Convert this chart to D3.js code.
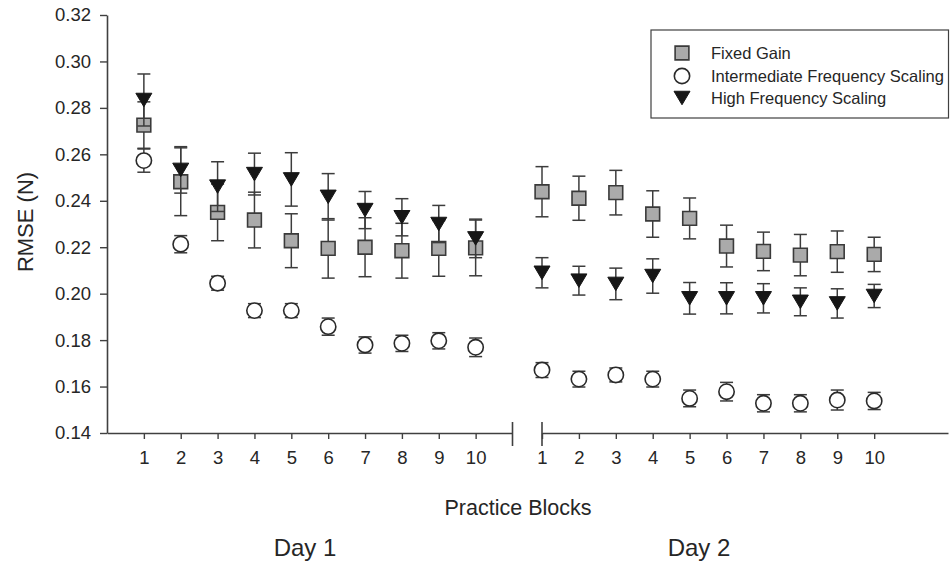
<!DOCTYPE html>
<html>
<head>
<meta charset="utf-8">
<script src="https://d3js.org/d3.v7.min.js"></script>
<style>
  body { margin: 0; background: #fff; }
  svg { display: block; font-family: "Liberation Sans", Arial, sans-serif; }
</style>
</head>
<body>
<svg width="950" height="565"></svg>
<script>
// data
const blocks = [1, 2, 3, 4, 5, 6, 7, 8, 9, 10];
const yTicks = [0.14, 0.16, 0.18, 0.20, 0.22, 0.24, 0.26, 0.28, 0.30, 0.32];
const seriesNames = ["Fixed Gain", "Intermediate Frequency Scaling", "High Frequency Scaling"];

const fixedDay1    = [0.2726, 0.2482, 0.2350, 0.2317, 0.2228, 0.2195, 0.2200, 0.2185, 0.2195, 0.2197];
const fixedDay1Err = [0.0100, 0.0146, 0.0122, 0.0120, 0.0116, 0.0128, 0.0127, 0.0118, 0.0120, 0.0120];
const interDay1    = [0.2573, 0.2213, 0.2045, 0.1927, 0.1927, 0.1858, 0.1779, 0.1786, 0.1797, 0.1769];
const interDay1Err = [0.0050, 0.0037, 0.0030, 0.0030, 0.0030, 0.0037, 0.0035, 0.0035, 0.0035, 0.0040];
const highDay1     = [0.2834, 0.2533, 0.2461, 0.2515, 0.2492, 0.2417, 0.2360, 0.2329, 0.2300, 0.2238];
const highDay1Err  = [0.0112, 0.0100, 0.0107, 0.0090, 0.0115, 0.0100, 0.0080, 0.0080, 0.0080, 0.0083];

const fixedDay2    = [0.2439, 0.2411, 0.2435, 0.2343, 0.2324, 0.2205, 0.2182, 0.2166, 0.2181, 0.2169];
const fixedDay2Err = [0.0108, 0.0095, 0.0096, 0.0100, 0.0088, 0.0090, 0.0083, 0.0089, 0.0089, 0.0074];
const interDay2    = [0.1671, 0.1632, 0.1650, 0.1632, 0.1549, 0.1578, 0.1528, 0.1528, 0.1542, 0.1538];
const interDay2Err = [0.0032, 0.0034, 0.0030, 0.0034, 0.0036, 0.0040, 0.0037, 0.0037, 0.0043, 0.0037];
const highDay2     = [0.2090, 0.2056, 0.2042, 0.2076, 0.1980, 0.1980, 0.1980, 0.1965, 0.1958, 0.1990];
const highDay2Err  = [0.0065, 0.0062, 0.0068, 0.0074, 0.0068, 0.0067, 0.0063, 0.0060, 0.0063, 0.0050];

const svg = d3.select("svg");
const axisColor = "#404040";
const textColor = "#262626";

const y = d3.scaleLinear().domain([0.14, 0.32]).range([433, 15]);
const x1 = d3.scaleLinear().domain([0, 11]).range([107, 512.5]);
const x2 = d3.scaleLinear().domain([1, 12]).range([542, 948]);

// marker shapes
const squarePath = d3.symbol(d3.symbolSquare, 190)();
const circlePath = d3.symbol(d3.symbolCircle, 185)();
function downTriangle(w, h) {
  const p = d3.path();
  p.moveTo(-w / 2, -h / 2); p.lineTo(w / 2, -h / 2); p.lineTo(0, h / 2); p.closePath();
  return p.toString();
}
const triPath = downTriangle(16, 13.5);
const markers = [
  { path: squarePath, fill: "#aaaaaa", stroke: "#3a3a3a", sw: 1.6 },
  { path: circlePath, fill: "#ffffff", stroke: "#2a2a2a", sw: 1.6 },
  { path: triPath, fill: "#161616", stroke: "#161616", sw: 1 }
];

// axes
const yAxis = svg.append("g")
  .attr("transform", "translate(107,0)")
  .call(d3.axisLeft(y).tickValues(yTicks).tickFormat(d3.format(".2f")).tickSize(7).tickSizeOuter(0).tickPadding(9));

const xAxis1 = svg.append("g")
  .attr("transform", "translate(0,433)")
  .call(d3.axisBottom(x1).tickValues(blocks).tickFormat(d3.format("d")).tickSize(6).tickSizeOuter(0).tickPadding(12));
const xAxis2 = svg.append("g")
  .attr("transform", "translate(0,433)")
  .call(d3.axisBottom(x2).tickValues(blocks).tickFormat(d3.format("d")).tickSize(6).tickSizeOuter(0).tickPadding(12));

[yAxis, xAxis1, xAxis2].forEach(g => {
  g.select(".domain").attr("stroke", axisColor).attr("stroke-width", 1.6);
  g.selectAll(".tick line").attr("stroke", axisColor).attr("stroke-width", 1.4);
  g.selectAll(".tick text").attr("fill", textColor).style("font-size", "18.5px").style("font-family", "Liberation Sans, Arial, sans-serif");
});

// axis break marks
svg.append("g").selectAll("line").data([x1(11), x2(1)]).join("line")
  .attr("x1", d => d).attr("x2", d => d)
  .attr("y1", 422).attr("y2", 446)
  .attr("stroke", axisColor).attr("stroke-width", 1.6);

// series groups: per day, per series
const days = [
  { x: x1, series: [[fixedDay1, fixedDay1Err], [interDay1, interDay1Err], [highDay1, highDay1Err]] },
  { x: x2, series: [[fixedDay2, fixedDay2Err], [interDay2, interDay2Err], [highDay2, highDay2Err]] }
];

const capW = 6.5;
markers.forEach((m, si) => {
  days.forEach(day => {
    const [vals, errs] = day.series[si];
    const pts = blocks.map((b, i) => ({ x: day.x(b), v: vals[i], e: errs[i] }));
    const g = svg.append("g");
    const eb = g.selectAll("g.err").data(pts).join("g").attr("class", "err")
      .attr("stroke", "#3c3c3c").attr("stroke-width", 1.5);
    eb.append("line").attr("x1", d => d.x).attr("x2", d => d.x)
      .attr("y1", d => y(d.v + d.e)).attr("y2", d => y(d.v - d.e));
    eb.append("line").attr("x1", d => d.x - capW).attr("x2", d => d.x + capW)
      .attr("y1", d => y(d.v + d.e)).attr("y2", d => y(d.v + d.e));
    eb.append("line").attr("x1", d => d.x - capW).attr("x2", d => d.x + capW)
      .attr("y1", d => y(d.v - d.e)).attr("y2", d => y(d.v - d.e));
    g.selectAll("path.mark").data(pts).join("path").attr("class", "mark")
      .attr("d", m.path)
      .attr("transform", d => `translate(${d.x},${y(d.v)})`)
      .attr("fill", m.fill).attr("stroke", m.stroke).attr("stroke-width", m.sw);
  });
});

// axis titles
svg.append("text")
  .attr("transform", "translate(33,222) rotate(-90)")
  .attr("text-anchor", "middle")
  .attr("fill", textColor).style("font-size", "22px")
  .text("RMSE (N)");
svg.append("text")
  .attr("x", 518).attr("y", 515).attr("text-anchor", "middle")
  .attr("fill", textColor).style("font-size", "21.5px")
  .text("Practice Blocks");
svg.append("text")
  .attr("x", 305).attr("y", 556).attr("text-anchor", "middle")
  .attr("fill", textColor).style("font-size", "24px")
  .text("Day 1");
svg.append("text")
  .attr("x", 699).attr("y", 556).attr("text-anchor", "middle")
  .attr("fill", textColor).style("font-size", "24px")
  .text("Day 2");

// legend
const legend = svg.append("g");
legend.append("rect")
  .attr("x", 651).attr("y", 30).attr("width", 297.5).attr("height", 88)
  .attr("fill", "#fff").attr("stroke", axisColor).attr("stroke-width", 1.2);
const legendRows = [53, 76, 98];
seriesNames.forEach((name, i) => {
  const m = markers[i];
  legend.append("path").attr("d", m.path)
    .attr("transform", `translate(682,${legendRows[i]})`)
    .attr("fill", m.fill).attr("stroke", m.stroke).attr("stroke-width", m.sw);
  legend.append("text")
    .attr("x", 711).attr("y", legendRows[i]).attr("dy", "0.35em")
    .attr("fill", textColor).style("font-size", "16.5px")
    .text(name);
});
</script>
</body>
</html>
